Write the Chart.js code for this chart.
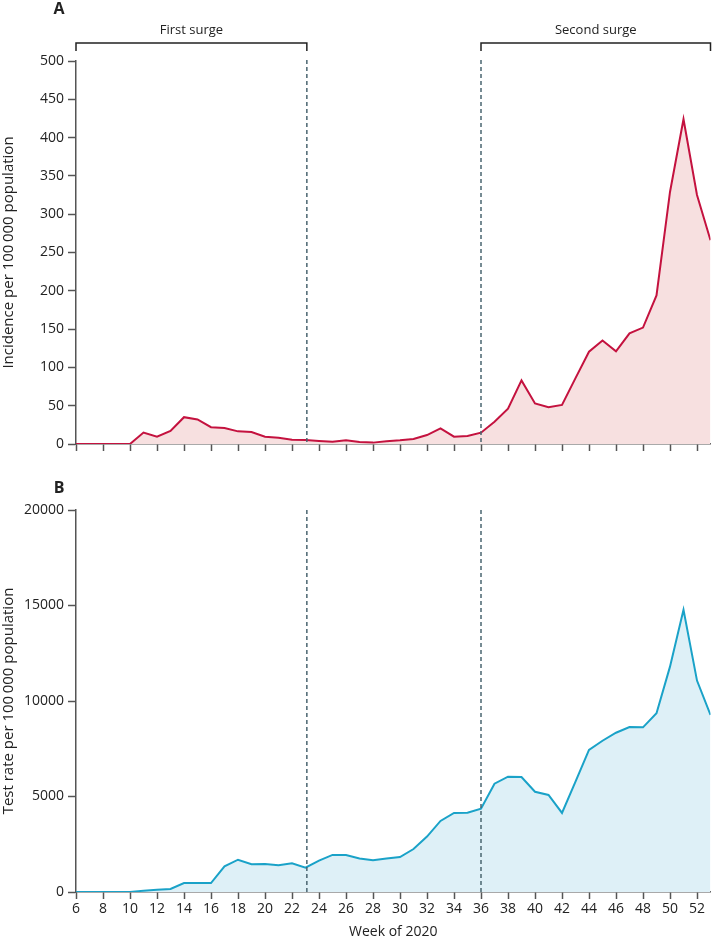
<!DOCTYPE html>
<html><head><meta charset="utf-8">
<script src="https://cdn.jsdelivr.net/npm/chart.js@4"></script>
<style>
html,body{margin:0;padding:0;background:#fff;}
#wrap{position:relative;width:713px;height:938px;overflow:hidden;background:#fff;}
canvas{position:absolute;left:0;}
#cA{top:0}
#cB{top:470px}
</style></head><body>
<div id="wrap"><canvas id="cA" width="713" height="470"></canvas><canvas id="cB" width="713" height="470"></canvas></div>
<script>
// ---- data ----
const weeks = [6,7,8,9,10,11,12,13,14,15,16,17,18,19,20,21,22,23,24,25,26,27,28,29,30,31,32,33,34,35,36,37,38,39,40,41,42,43,44,45,46,47,48,49,50,51,52,53];
const incidence = [0,0,0,0,0, 15,9.5,17,35,32, 22,21,16.5,15.7,9.6, 8.3,5.7,5.2,4,3, 5,2.6,1.8,3.5,4.8, 6.5,11.7,20.5,9.6,10.4, 14.8,29,46,83,53, 48,51,86,120.5,135, 121,144.5,152,194,329, 424,325,266];
const testRate = [0,0,0,0,0, 70,120,160,470,470, 470,1340,1690,1450,1470, 1400,1500,1270,1640,1940, 1940,1750,1660,1750,1830, 2250,2900,3720,4140,4150, 4360,5670,6040,6020,5250, 5080,4140,5780,7440,7920, 8340,8640,8620,9360,11800, 14770,11070,9270];
const xTickWeeks = [6,8,10,12,14,16,18,20,22,24,26,28,30,32,34,36,38,40,42,44,46,48,50,52];
const incidenceTicks = [0,50,100,150,200,250,300,350,400,450,500];
const testTicks = [0,5000,10000,15000,20000];
const surgeBoundaries = [23.1, 36];
const surgeNames = ['First surge','Second surge'];
const surgeFrom = [6, 36];
const surgeTo = [23.1, 53];
const xTitle = 'Week of 2020';
const yTitleA = 'Incidence per 100\u2009000 population';
const yTitleB = 'Test rate per 100\u2009000 population';

const FONT = "'Open Sans', sans-serif";
const AXIS = '#555';
const TXT = '#222';

function makeOptions(cfg){
  return {
    responsive:false, animation:false,
    layout:{padding:{top:cfg.padTop,right:2.5,left:0,bottom:0}},
    plugins:{legend:{display:false},tooltip:{enabled:false}},
    elements:{point:{radius:0},line:{tension:0}},
    scales:{
      x:{type:'linear',min:6,max:53,
        afterBuildTicks:s=>{s.ticks = xTickWeeks.map(v=>({value:v}));},
        afterFit:s=>{s.height = cfg.xHeight;},
        grid:{display:true,drawOnChartArea:false,drawTicks:true,tickLength:7,tickColor:AXIS,tickWidth:1.5},
        border:{display:true,color:AXIS,width:1.5},
        ticks:{autoSkip:false,maxRotation:0,padding:2,color:TXT,font:{family:FONT,size:14},
          callback:v=>cfg.showX?String(v):''},
        title:{display:cfg.showX,text:xTitle,color:'#222',font:{family:FONT,size:14},padding:0}
      },
      y:{min:0,max:cfg.yMax,
        afterBuildTicks:s=>{s.ticks = cfg.yTicks.map(v=>({value:v}));},
        afterFit:s=>{s.width = 76;},
        grid:{display:true,drawOnChartArea:false,drawTicks:true,tickLength:8,tickColor:AXIS,tickWidth:1.5},
        border:{display:true,color:AXIS,width:1.5},
        ticks:{padding:4,color:TXT,font:{family:FONT,size:14},callback:v=>String(v)},
        title:{display:true,text:cfg.yTitle,color:'#222',font:{family:FONT,size:15},padding:0}
      }
    }
  };
}

const dashPlugin = {
  id:'surgeLines',
  afterDatasetsDraw(chart, args, opts){
    const {ctx, chartArea, scales:{x}} = chart;
    ctx.save();
    ctx.setLineDash([4,3]);
    ctx.strokeStyle = '#4a6570';
    ctx.lineWidth = 1.5;
    surgeBoundaries.forEach(w=>{
      const px = x.getPixelForValue(w);
      ctx.beginPath();
      ctx.moveTo(px, chartArea.top - (opts.extendTop||0));
      ctx.lineTo(px, chartArea.bottom);
      ctx.stroke();
    });
    ctx.restore();
  }
};

const decoPlugin = {
  id:'deco',
  afterDraw(chart, args, opts){
    const {ctx, chartArea, scales:{x}} = chart;
    ctx.save();
    ctx.fillStyle = '#222';
    ctx.font = "bold 16px " + FONT;
    ctx.textAlign = 'center';
    ctx.textBaseline = 'middle';
    ctx.fillText(opts.letter, 59, opts.letterY);
    if (opts.brackets){
      ctx.strokeStyle = '#222';
      ctx.lineWidth = 1.5;
      ctx.font = "13px " + FONT;
      const yb = chartArea.top - 18;
      surgeNames.forEach((name,i)=>{
        const x0 = x.getPixelForValue(surgeFrom[i]);
        const x1 = Math.min(x.getPixelForValue(surgeTo[i]), chart.width - 1);
        ctx.beginPath();
        ctx.moveTo(x0, yb + 8);
        ctx.lineTo(x0, yb);
        ctx.lineTo(x1, yb);
        ctx.lineTo(x1, yb + 8);
        ctx.stroke();
        ctx.fillText(name, (x0 + x1) / 2, yb - 13);
      });
    }
    ctx.restore();
  }
};

function pts(vals){ return weeks.map((w,i)=>({x:w,y:vals[i]})); }

const optsA = makeOptions({padTop:61,xHeight:26,showX:false,yMax:500,yTicks:incidenceTicks,yTitle:yTitleA});
optsA.plugins.surgeLines = {extendTop:1};
optsA.plugins.deco = {letter:'A',letterY:9,brackets:true};
new Chart(document.getElementById('cA'),{
  type:'line',
  data:{datasets:[{data:pts(incidence),borderColor:'#c4123f',borderWidth:2,backgroundColor:'#f7e0e0',fill:'origin'}]},
  options:optsA,
  plugins:[dashPlugin,decoPlugin]
});

const optsB = makeOptions({padTop:40,xHeight:48,showX:true,yMax:20000,yTicks:testTicks,yTitle:yTitleB});
optsB.plugins.surgeLines = {extendTop:0};
optsB.plugins.deco = {letter:'B',letterY:18,brackets:false};
new Chart(document.getElementById('cB'),{
  type:'line',
  data:{datasets:[{data:pts(testRate),borderColor:'#1aa2c8',borderWidth:2,backgroundColor:'#def0f7',fill:'origin'}]},
  options:optsB,
  plugins:[dashPlugin,decoPlugin]
});
</script>
</body></html>
